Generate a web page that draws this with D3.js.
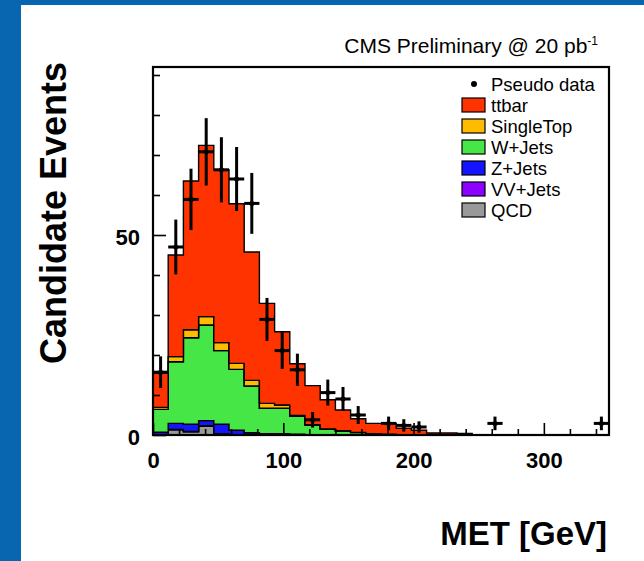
<!DOCTYPE html>
<html>
<head>
<meta charset="utf-8">
<script src="https://cdn.jsdelivr.net/npm/d3@7"></script>
<style>
body { margin: 0; background: #fff; }
svg text { font-family: "Liberation Sans", Arial, Helvetica, sans-serif; }
</style>
</head>
<body>
<svg id="chart" width="644" height="561"></svg>
<script>
// MET histogram, 30 bins from 0 to 350 GeV
const metMax = 350;
const nBins = 30;

const ttbar     = [8.5, 25.4, 37.2, 42.8, 43.2, 39.9, 32.1, 25.0, 18.3, 12.9, 9.8, 7.3, 5.2, 3.4, 2.6, 2.7, 1.6, 1.2, 0.5, 0.5, 0.4, 0, 0, 0, 0, 0, 0, 0, 0, 0];
const singleTop = [0.5, 1.3, 2.0, 2.1, 2.0, 1.5, 1.4, 1.2, 0.8, 0.2, 0.15, 0.1, 0.1, 0.05, 0, 0, 0, 0, 0, 0, 0, 0, 0, 0, 0, 0, 0, 0, 0, 0];
const wJets     = [5.7, 15.4, 21.6, 23.9, 18.4, 15.2, 11.7, 6.4, 6.4, 4.5, 2.3, 1.3, 0.9, 0.6, 0.3, 0.2, 0.1, 0, 0, 0, 0, 0, 0, 0, 0, 0, 0, 0, 0, 0];
const zJets     = [0.7, 1.5, 1.8, 1.3, 2.4, 1.1, 0.5, 0.25, 0.25, 0.2, 0.1, 0.1, 0.05, 0, 0, 0, 0, 0, 0, 0, 0, 0, 0, 0, 0, 0, 0, 0, 0, 0];
const vvJets    = [0, 0.1, 0.1, 0.1, 0.1, 0.1, 0.05, 0.05, 0.05, 0, 0, 0, 0, 0, 0, 0, 0, 0, 0, 0, 0, 0, 0, 0, 0, 0, 0, 0, 0, 0];
const qcd       = [0, 1.3, 0.8, 2.2, 0.2, 0, 0, 0, 0, 0, 0, 0, 0, 0, 0, 0, 0, 0, 0, 0, 0, 0, 0, 0, 0, 0, 0, 0, 0, 0];
const pseudoData = [15.7, 47.0, 58.9, 70.8, 66.3, 64.0, 57.9, 28.9, 21.1, 16.3, 3.8, 10.6, 9.0, 5.0, 0, 2.9, 2.4, 2.0, 0, 0, 0, 0, 2.9, 0, 0, 0, 0, 0, 0, 2.9];

const yMajorTicks = [0, 50];
const yMinorTicks = [10, 20, 30, 40, 60, 70, 80, 90];
const xMajorTicks = [0, 100, 200, 300];
const xMinorTicks = [20, 40, 60, 80, 120, 140, 160, 180, 220, 240, 260, 280, 320, 340];

// bottom to top stack order
const samples = [
    {key: 'qcd',       label: 'QCD',       color: '#999999', values: qcd},
    {key: 'vvJets',    label: 'VV+Jets',   color: '#8c00ff', values: vvJets},
    {key: 'zJets',     label: 'Z+Jets',    color: '#1414ff', values: zJets},
    {key: 'wJets',     label: 'W+Jets',    color: '#46e646', values: wJets},
    {key: 'singleTop', label: 'SingleTop', color: '#ffbb00', values: singleTop},
    {key: 'ttbar',     label: 'ttbar',     color: '#ff3300', values: ttbar}
];

const svg = d3.select('#chart');
const width = +svg.attr('width');
const height = +svg.attr('height');

// blue slide frame
svg.append('rect').attr('x', 0).attr('y', 0).attr('width', width).attr('height', height).attr('fill', '#0866b0');
svg.append('rect').attr('x', 21).attr('y', 5).attr('width', width - 21).attr('height', height - 5).attr('fill', '#fff');

const plotLeft = 153, plotRight = 609, plotTop = 67, plotBottom = 435;
const x = d3.scaleLinear().domain([0, metMax]).range([plotLeft, plotRight]);
const y = d3.scaleLinear().domain([0, 92]).range([plotBottom, plotTop]);

const binWidth = metMax / nBins;
// one row per bin, plus a closing row at the upper edge for the step curve
const table = d3.range(nBins + 1).map(i => {
    const row = {low: i * binWidth};
    samples.forEach(s => { row[s.key] = i < nBins ? s.values[i] : s.values[nBins - 1]; });
    return row;
});

const stack = d3.stack().keys(samples.map(s => s.key));
const layers = stack(table);

const area = d3.area()
    .curve(d3.curveStepAfter)
    .x(d => x(d.data.low))
    .y0(d => y(d[0]))
    .y1(d => y(d[1]));

svg.append('g')
    .selectAll('path')
    .data(layers)
    .enter()
    .append('path')
    .attr('d', area)
    .attr('fill', (d, i) => samples[i].color)
    .attr('stroke', 'black')
    .attr('stroke-width', 1.4);

// axes, ticks inside the frame
const yMajor = svg.append('g')
    .attr('transform', `translate(${plotLeft},0)`)
    .call(d3.axisLeft(y).tickValues(yMajorTicks).tickSize(-13).tickSizeOuter(0).tickPadding(13));
const yMinor = svg.append('g')
    .attr('transform', `translate(${plotLeft},0)`)
    .call(d3.axisLeft(y).tickValues(yMinorTicks).tickSize(-7).tickSizeOuter(0).tickFormat(''));
const xMajor = svg.append('g')
    .attr('transform', `translate(0,${plotBottom})`)
    .call(d3.axisBottom(x).tickValues(xMajorTicks).tickSize(-12).tickSizeOuter(0).tickPadding(17));
const xMinor = svg.append('g')
    .attr('transform', `translate(0,${plotBottom})`)
    .call(d3.axisBottom(x).tickValues(xMinorTicks).tickSize(-6).tickSizeOuter(0).tickFormat(''));

[yMajor, yMinor, xMajor, xMinor].forEach(g => {
    g.select('.domain').remove();
    g.selectAll('line').attr('stroke', 'black').attr('stroke-width', 1.6);
    g.selectAll('text')
        .attr('fill', 'black')
        .style('font-size', '22px')
        .style('font-weight', 'bold')
        .style('font-family', '"Liberation Sans", Arial, sans-serif');
});
yMajor.selectAll('text').attr('dy', '0.42em');

svg.append('rect')
    .attr('x', plotLeft).attr('y', plotTop)
    .attr('width', plotRight - plotLeft).attr('height', plotBottom - plotTop)
    .attr('fill', 'none')
    .attr('stroke', 'black')
    .attr('stroke-width', 2.2);

// pseudo data with sqrt(N) error bars
const points = pseudoData
    .map((v, i) => ({low: i * binWidth, value: v}))
    .filter(d => d.value > 0);

const pts = svg.append('g')
    .selectAll('g')
    .data(points)
    .enter()
    .append('g');

pts.append('line')
    .attr('x1', d => x(d.low))
    .attr('x2', d => x(d.low + binWidth))
    .attr('y1', d => y(d.value))
    .attr('y2', d => y(d.value))
    .attr('stroke', 'black')
    .attr('stroke-width', 3);
pts.append('line')
    .attr('x1', d => x(d.low + binWidth / 2))
    .attr('x2', d => x(d.low + binWidth / 2))
    .attr('y1', d => y(d.value - Math.sqrt(d.value)))
    .attr('y2', d => y(d.value + Math.sqrt(d.value)))
    .attr('stroke', 'black')
    .attr('stroke-width', 3);
pts.append('circle')
    .attr('cx', d => x(d.low + binWidth / 2))
    .attr('cy', d => y(d.value))
    .attr('r', 2.5)
    .attr('fill', 'black');

// legend
const legendRows = [{label: 'Pseudo data', marker: true}]
    .concat(samples.slice().reverse().map(s => ({label: s.label, color: s.color})));

const legend = svg.append('g')
    .selectAll('g')
    .data(legendRows)
    .enter()
    .append('g')
    .attr('transform', (d, i) => `translate(462,${84 + i * 21})`);

legend.filter(d => d.marker)
    .append('circle')
    .attr('cx', 12).attr('cy', 0).attr('r', 3)
    .attr('fill', 'black');
legend.filter(d => !d.marker)
    .append('rect')
    .attr('x', 0).attr('y', -7)
    .attr('width', 23).attr('height', 14)
    .attr('fill', d => d.color)
    .attr('stroke', 'black')
    .attr('stroke-width', 1.2);
legend.append('text')
    .attr('x', 29)
    .attr('y', 0)
    .attr('dy', '0.36em')
    .style('font-size', '18.5px')
    .text(d => d.label);

// titles
const cms = svg.append('text')
    .attr('x', 598)
    .attr('y', 53)
    .attr('text-anchor', 'end')
    .style('font-size', '21px')
    .text('CMS Preliminary @ 20 pb');
cms.append('tspan')
    .attr('dy', -8)
    .style('font-size', '12px')
    .text('-1');

svg.append('text')
    .attr('x', 607)
    .attr('y', 545)
    .attr('text-anchor', 'end')
    .style('font-size', '33px')
    .style('font-weight', 'bold')
    .text('MET [GeV]');

svg.append('text')
    .attr('transform', 'translate(66,213) rotate(-90)')
    .attr('text-anchor', 'middle')
    .style('font-size', '36px')
    .style('font-weight', 'bold')
    .text('Candidate Events');
</script>
</body>
</html>
